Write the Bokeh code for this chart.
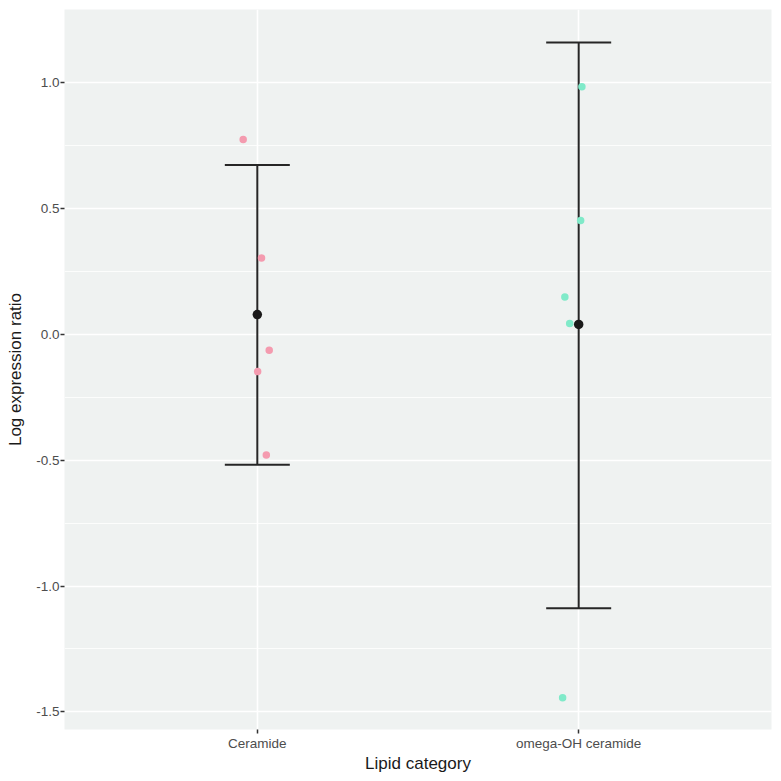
from bokeh.plotting import figure
from bokeh.models import ColumnDataSource, Range1d, FixedTicker, Whisker, TeeHead
from bokeh.embed import file_html
from bokeh.resources import INLINE

# ---- data ----
categories = ["Ceramide", "omega-OH ceramide"]
cat_pos = [1, 2]

cer_values = [0.774, 0.303, -0.064, -0.148, -0.480]
cer_jitter = [-0.044, 0.013, 0.037, 0.001, 0.028]
omega_values = [0.983, 0.452, 0.148, 0.043, -1.444]
omega_jitter = [0.010, 0.006, -0.043, -0.028, -0.050]

means = [0.078, 0.039]
lower = [-0.518, -1.088]
upper = [0.672, 1.159]

y_ticks = [-1.5, -1.0, -0.5, 0.0, 0.5, 1.0]
y_minor = [-1.25, -0.75, -0.25, 0.25, 0.75]

FONT = "Liberation Sans"
PINK = "#F49BAF"
GREEN = "#80EAC9"

p = figure(width=781, height=781, output_backend="svg", toolbar_location=None,
           x_range=Range1d(0.4, 2.6), y_range=Range1d(-1.570, 1.290),
           min_border_left=64, min_border_right=10, min_border_top=9, min_border_bottom=52)
p.outline_line_color = None
p.background_fill_color = "#EFF2F1"
p.border_fill_color = "white"

# grid
p.xgrid.ticker = FixedTicker(ticks=cat_pos)
p.xgrid.grid_line_color = "white"
p.xgrid.grid_line_width = 1.6
p.ygrid.ticker = FixedTicker(ticks=y_ticks, minor_ticks=y_minor)
p.ygrid.grid_line_color = "white"
p.ygrid.grid_line_width = 1.6
p.ygrid.minor_grid_line_color = "white"
p.ygrid.minor_grid_line_width = 0.8

# axes
p.xaxis.ticker = FixedTicker(ticks=cat_pos)
p.xaxis.major_label_overrides = {c: lab for c, lab in zip(cat_pos, categories)}
p.yaxis.ticker = FixedTicker(ticks=y_ticks)
p.yaxis.major_label_overrides = {t: f"{t:.1f}" for t in y_ticks}
for ax in (p.xaxis, p.yaxis):
    ax.axis_line_color = None
    ax.major_tick_line_color = "#333333"
    ax.major_tick_line_width = 1.5
    ax.major_tick_out = 4
    ax.major_tick_in = 0
    ax.minor_tick_line_color = None
    ax.major_label_text_font = FONT
    ax.major_label_text_font_size = "13.5px"
    ax.major_label_text_color = "#4D4D4D"
    ax.axis_label_text_font = FONT
    ax.axis_label_text_font_size = "17px"
    ax.axis_label_text_font_style = "normal"
    ax.axis_label_text_color = "#1A1A1A"
p.xaxis.axis_label = "Lipid category"
p.yaxis.axis_label = "Log expression ratio"
p.xaxis.major_label_standoff = 2
p.xaxis.axis_label_standoff = 0
p.yaxis.major_label_standoff = 1
p.yaxis.axis_label_standoff = 8

# jittered points
cer_src = ColumnDataSource(dict(x=[cat_pos[0] + j for j in cer_jitter], y=cer_values))
om_src = ColumnDataSource(dict(x=[cat_pos[1] + j for j in omega_jitter], y=omega_values))
p.scatter("x", "y", source=cer_src, size=7.5, color=PINK, line_color=None)
p.scatter("x", "y", source=om_src, size=7.5, color=GREEN, line_color=None)

# error bars
eb_src = ColumnDataSource(dict(x=cat_pos, lower=lower, upper=upper, mean=means))
wh = Whisker(base="x", lower="lower", upper="upper", source=eb_src, dimension="height",
             line_color="#262626", line_width=2,
             upper_head=TeeHead(size=65, line_color="#262626", line_width=2),
             lower_head=TeeHead(size=65, line_color="#262626", line_width=2))
p.add_layout(wh)
p.scatter("x", "mean", source=eb_src, size=9.5, color="#1A1A1A", line_color=None)

open("out.html", "w").write(file_html(p, INLINE))
